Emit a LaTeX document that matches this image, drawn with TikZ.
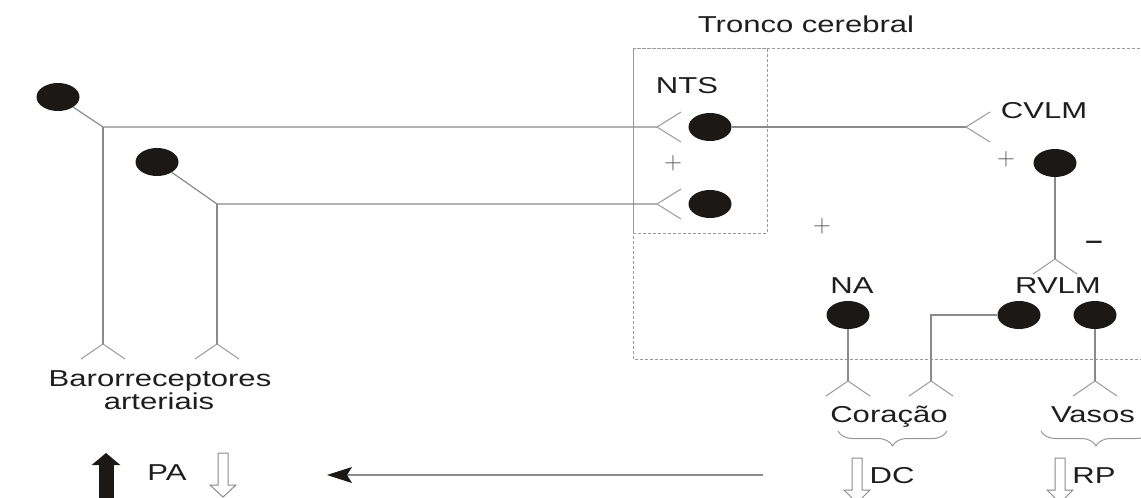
\documentclass[tikz,border=0pt]{standalone}
\usepackage{fontspec}
\setmainfont{Liberation Sans}[FakeStretch=1.35]
\usetikzlibrary{shapes.geometric,arrows.meta,decorations.pathreplacing}
\definecolor{ln}{HTML}{8A8A8A}
\definecolor{fk}{HTML}{999999}
\definecolor{dk}{HTML}{1C1816}
\definecolor{tx}{HTML}{1E1E1E}
\definecolor{sg}{HTML}{555555}
\tikzset{
 cell/.style={ellipse, fill=dk, draw=none, minimum width=43pt, minimum height=28pt, inner sep=0pt},
 wire/.style={draw=ln, line width=1.2pt},
 arm/.style={draw=fk, line width=1pt},
 box/.style={draw=fk, line width=1pt, dash pattern=on 3pt off 2pt},
 lbl/.style={text=tx, font=\fontsize{23}{21}\selectfont, inner sep=0pt, anchor=base},
 sign/.style={text=sg, font=\fontsize{24}{24}\selectfont, inner sep=0pt},
 hollow/.style={draw=ln, line width=1pt, fill=white},
 synL/.pic={\draw[arm] (0,0) -- (24,-15) (0,0) -- (24,15);},
 synU/.pic={\draw[arm] (0,0) -- (-22,15) (0,0) -- (22,15);},
}
\begin{document}
\begin{tikzpicture}[x=1pt,y=-1pt]
\clip (0,0) rectangle (1141,498);
\fill[white] (0,0) rectangle (1141,498);

% dashed boxes
\draw[box] (1150,48) -- (633,48) -- (633,359) -- (1150,359);
\draw[box] (633,48) rectangle (767,233);

% cells
\node[cell] (b1) at (58,97) {};
\node[cell] (b2) at (157,162) {};
\node[cell] (nts1) at (710,127) {};
\node[cell] (nts2) at (710,204) {};
\node[cell] (cv) at (1055,163) {};
\node[cell] (na) at (848,315) {};
\node[cell] (rv1) at (1019,315) {};
\node[cell] (rv2) at (1095,315) {};

% coordinates
\coordinate (j1) at (103,127);
\coordinate (j2) at (217,204);
\coordinate (r1) at (103,344);
\coordinate (r2) at (217,344);
\coordinate (s1) at (657,127);
\coordinate (s2) at (657,204);
\coordinate (s3) at (966,127);
\coordinate (s4) at (1055,259);
\coordinate (s5) at (848,381);
\coordinate (k6) at (931,315);
\coordinate (s6) at (931,381);
\coordinate (s7) at (1095,381);

% wires
\draw[wire] (b1) -- (j1) -- (s1);
\draw[wire] (j1) -- (r1);
\draw[wire] (b2) -- (j2) -- (s2);
\draw[wire] (j2) -- (r2);
\draw[wire] (nts1) -- (s3);
\draw[wire] (cv) -- (s4);
\draw[wire] (na) -- (s5);
\draw[wire] (rv1) -- (k6) -- (s6);
\draw[wire] (rv2) -- (s7);

% synapses
\pic at (s1) {synL};
\pic at (s2) {synL};
\pic at (s3) {synL};
\pic at (r1) {synU};
\pic at (r2) {synU};
\pic at (s4) {synU};
\pic at (s5) {synU};
\pic at (s6) {synU};
\pic at (s7) {synU};

% labels
\node[lbl] (tc) at (806,32) {Tronco cerebral};
\node[lbl] (lnts) at (687,93) {NTS};
\node[lbl] (lcv) at (1044,118) {CVLM};
\node[lbl] (lna) at (852,293) {NA};
\node[lbl] (lrv) at (1058,293) {RVLM};
\node[lbl] (bar1) at (160,386) {Barorreceptores};
\node[lbl] (bar2) at (159,409) {arteriais};
\node[lbl] (cor) at (889,422) {Coração};
\node[lbl] (vas) at (1093,422) {Vasos};
\node[lbl] (pa) at (167,480) {PA};
\node[lbl] (dc) at (892,483) {DC};
\node[lbl] (rp) at (1094,483) {RP};

% signs
\node[sign] (p1) at (673,163) {$+$};
\node[sign] (p2) at (822,226) {$+$};
\node[sign] (p3) at (1006,159) {$+$};
\node[text=tx, font=\fontsize{23}{21}\selectfont\bfseries, inner sep=0pt] (mn) at (1094,245) {–};

% braces
\draw[arm, decorate, decoration={brace, mirror, amplitude=15pt}] (838,431) -- (947,431);
\draw[arm, decorate, decoration={brace, mirror, amplitude=15pt}] (1041,431) -- (1151,431);

% hollow arrows
\draw[hollow] (218,453) -- (228,453) -- (228,485) -- (236,485) -- (223,497) -- (210,485) -- (218,485) -- cycle;
\draw[hollow] (852,458) -- (862,458) -- (862,490) -- (870,490) -- (857,503) -- (844,490) -- (852,490) -- cycle;
\draw[hollow] (1055,458) -- (1065,458) -- (1065,490) -- (1073,490) -- (1060,503) -- (1047,490) -- (1055,490) -- cycle;

% black up arrow
\coordinate (ub) at (106,502);
\coordinate (ut) at (106,453);
\draw[dk, line width=15pt, -{Triangle[length=12pt,width=28pt]}] (ub) -- (ut);

% horizontal arrow
\coordinate (hA) at (763,475);
\coordinate (hB) at (327,475);
\draw[ln, line width=1.2pt, -{Stealth[length=25pt,width=16pt,inset=5pt,color=dk]}] (hA) -- (hB);
\end{tikzpicture}
\end{document}
